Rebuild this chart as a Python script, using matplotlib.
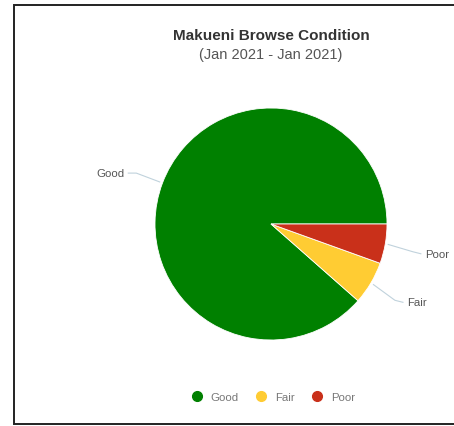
import numpy as np
import matplotlib
matplotlib.use("Agg")
import matplotlib.pyplot as plt
from matplotlib.lines import Line2D

categories = ["Good", "Fair", "Poor"]
values = [88.5, 6.0, 5.5]
colors = ["#008000", "#ffcc33", "#c9301a"]

title = "Makueni Browse Condition"
subtitle = "(Jan 2021 - Jan 2021)"

plt.rcParams['font.family'] = ['Liberation Sans', 'DejaVu Sans']

W, H = 454, 427
fig = plt.figure(figsize=(W / 100, H / 100), dpi=100)
ax = fig.add_axes([0, 0, 1, 1])

# pie in pixel-like data units (y up)
cx, cy, r = 271, H - 225, 116
wedges, _ = ax.pie(values, colors=colors, startangle=0, counterclock=True,
                   center=(cx, cy), radius=r,
                   wedgeprops=dict(linewidth=0.6, edgecolor="white"))
ax.set_xlim(0, W)
ax.set_ylim(0, H)
ax.set_aspect("equal")
ax.axis("off")

# border: the right side is cut off in the original
ax.plot([W, 13.5, 13.5, W], [H - 6, H - 6, 2.5, 2.5], color="#222222",
        linewidth=1.4, solid_joinstyle="miter")

# data labels with connectors
for w, name in zip(wedges, categories):
    mid = np.deg2rad((w.theta1 + w.theta2) / 2)
    ex, ey = cx + (r + 3) * np.cos(mid), cy + (r + 3) * np.sin(mid)
    tx, ty = cx + (r + 28) * np.cos(mid), cy + (r + 28) * np.sin(mid)
    side = 1 if np.cos(mid) > 0 else -1
    drop = 5 if side > 0 else 0
    lx, ly = tx + side * 8, ty - drop
    ax.plot([ex, tx, lx], [ey, ty - drop * 0.6, ly], color="#c0d2dc", linewidth=0.8)
    ax.text(lx + side * 4, ly, name, fontsize=8.2, color="#555555",
            ha="left" if side > 0 else "right", va="center")

ax.text(271, H - 36, title, fontsize=11, fontweight="bold", color="#333333",
        ha="center", va="center")
ax.text(271, H - 55, subtitle, fontsize=10.5, color="#555555", ha="center", va="center")

handles = [Line2D([], [], marker="o", linestyle="none", markersize=7,
                  markerfacecolor=c, markeredgecolor=c) for c in colors]
leg = ax.legend(handles, categories, ncol=3, loc="center",
                bbox_to_anchor=(273 / W, 29 / H), frameon=False,
                fontsize=8.2, handletextpad=0.7, columnspacing=1.5,
                handlelength=1.0)
for t in leg.get_texts():
    t.set_color("#777777")

fig.savefig("out.png", dpi=100)
